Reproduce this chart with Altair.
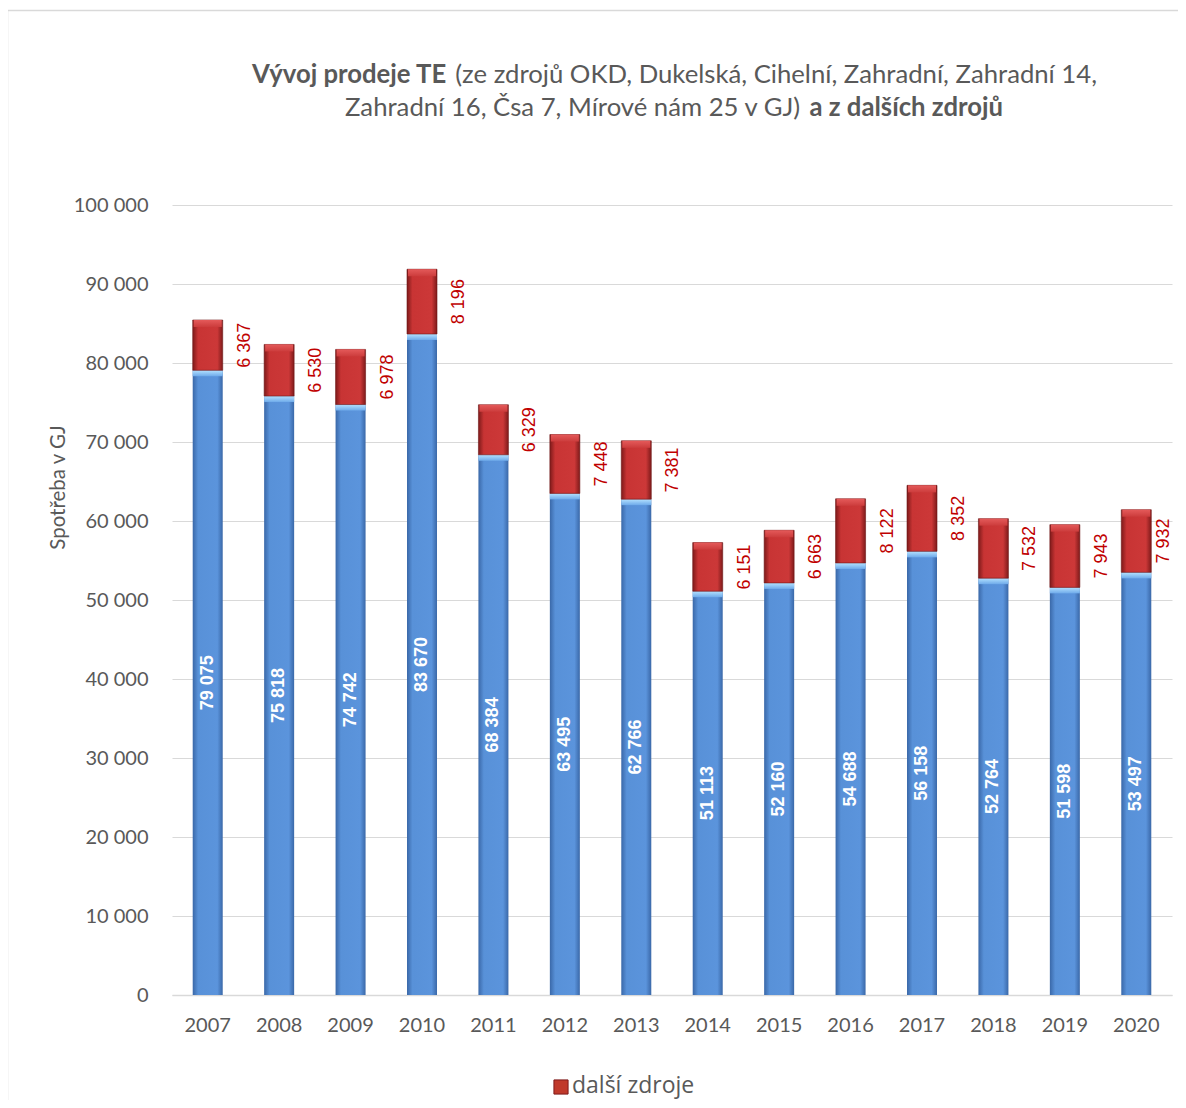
import altair as alt
import pandas as pd

# ---- data ----
years = ["2007", "2008", "2009", "2010", "2011", "2012", "2013",
         "2014", "2015", "2016", "2017", "2018", "2019", "2020"]
okd_values = [79075, 75818, 74742, 83670, 68384, 63495, 62766,
              51113, 52160, 54688, 56158, 52764, 51598, 53497]
dalsi_values = [6367, 6530, 6978, 8196, 6329, 7448, 7381,
                6151, 6663, 8122, 8352, 7532, 7943, 7932]
y_ticks = [0, 10000, 20000, 30000, 40000, 50000, 60000, 70000, 80000, 90000, 100000]

title_line1_bold = "Vývoj prodeje TE"
title_line1_rest = "(ze zdrojů OKD, Dukelská, Cihelní, Zahradní, Zahradní 14,"
title_line2_rest = "Zahradní 16, Čsa 7, Mírové nám 25 v GJ)"
title_line2_bold = "a z dalších zdrojů"
y_title = "Spotřeba v GJ"
legend_label = "další zdroje"


def fmt(v):
    return f"{v:,}".replace(",", " ")


df = pd.DataFrame({
    "year": years,
    "okd": okd_values,
    "dalsi": dalsi_values,
    "okd_label": [fmt(v) for v in okd_values],
    "dalsi_label": [fmt(v) for v in dalsi_values],
})

FONT = "Lato"
GRAY = "#595959"
W, H = 1000, 790

blue_grad = alt.Gradient(
    gradient="linear", x1=0, x2=1, y1=0, y2=0,
    stops=[alt.GradientStop(color="#3a68a8", offset=0),
           alt.GradientStop(color="#5891d8", offset=0.18),
           alt.GradientStop(color="#5b94dc", offset=0.82),
           alt.GradientStop(color="#3a68a8", offset=1)])
red_grad = alt.Gradient(
    gradient="linear", x1=0, x2=1, y1=0, y2=0,
    stops=[alt.GradientStop(color="#7e1a1a", offset=0),
           alt.GradientStop(color="#c83434", offset=0.18),
           alt.GradientStop(color="#cc3838", offset=0.82),
           alt.GradientStop(color="#7e1a1a", offset=1)])
blue_cap = alt.Gradient(
    gradient="linear", x1=0, x2=0, y1=0, y2=1,
    stops=[alt.GradientStop(color="#b4e2ff", offset=0),
           alt.GradientStop(color="#6eaaea", offset=1)])
red_cap = alt.Gradient(
    gradient="linear", x1=0, x2=0, y1=0, y2=1,
    stops=[alt.GradientStop(color="#e45a5a", offset=0),
           alt.GradientStop(color="#cc3c3c", offset=1)])

x_scale = alt.Scale(paddingInner=0, paddingOuter=0)
x_ax = alt.Axis(title=None, labelFont=FONT, labelFontSize=20,
                labelColor=GRAY, labelAngle=0, labelPadding=20,
                ticks=False, grid=False, domainColor="#d9d9d9", domainWidth=1.5)
X = alt.X("year:N", sort=years, scale=x_scale, axis=x_ax)

yscale = alt.Scale(domain=[0, 100000], nice=False, zero=True)
y_ax = alt.Axis(values=y_ticks,
                labelExpr="replace(format(datum.value, ','), ',', ' ')",
                labelFont=FONT, labelFontSize=20, labelColor=GRAY,
                labelPadding=24, ticks=False, domain=False,
                gridColor="#d9d9d9", gridWidth=1.2,
                title=y_title, titleFont=FONT, titleFontSize=20.5,
                titleFontWeight="normal", titleColor=GRAY,
                titleX=-104, titleY=282)


def Y(field):
    return alt.Y(field, scale=yscale, axis=y_ax)


base = alt.Chart(df).transform_calculate(
    total="datum.okd + datum.dalsi",
    okd_mid="datum.okd / 2",
    dalsi_mid="datum.okd + datum.dalsi / 2",
)

blue_bars = base.mark_bar(size=30, fill=blue_grad).encode(
    x=X, y=Y("okd:Q"), y2=alt.Y2(datum=0))

blue_caps = base.mark_bar(size=30, fill=blue_cap, y2Offset=6).encode(
    x=X, y=Y("okd:Q"), y2="okd:Q")

red_bars = base.mark_bar(size=30, fill=red_grad, stroke="#6e1515",
                         strokeWidth=0.6).encode(
    x=X, y=Y("total:Q"), y2="okd:Q")

red_caps = base.mark_bar(size=28, fill=red_cap, y2Offset=7).encode(
    x=X, y=Y("total:Q"), y2="total:Q")

blue_labels = base.mark_text(angle=270, align="center", baseline="middle",
                             font="Liberation Sans", fontSize=18,
                             fontWeight="bold", color="white").encode(
    x=X, y=Y("okd_mid:Q"), text="okd_label:N")

red_labels = base.transform_filter(alt.datum.year != years[-1]).mark_text(
    angle=270, align="center", baseline="middle",
    font="Liberation Sans", fontSize=18, color="#c00000", xOffset=37).encode(
    x=X, y=Y("dalsi_mid:Q"), text="dalsi_label:N")

red_label_last = base.transform_filter(alt.datum.year == years[-1]).mark_text(
    angle=270, align="center", baseline="middle",
    font="Liberation Sans", fontSize=18, color="#c00000", xOffset=28).encode(
    x=X, y=Y("dalsi_mid:Q"), text="dalsi_label:N")

one = pd.DataFrame({"k": [0]})

border_top = alt.Chart(one).mark_rule(color="#d9d9d9", strokeWidth=1.5).encode(
    x=alt.value(-164.5), x2=alt.value(1100), y=alt.value(-194.5))
border_left = alt.Chart(one).mark_rule(color="#d9d9d9", strokeWidth=1.5).encode(
    x=alt.value(-164.5), y=alt.value(-194.5), y2=alt.value(1000))

TS = 25.7
t1b = alt.Chart(one).mark_text(text=title_line1_bold, align="left", baseline="middle",
                               font=FONT, fontSize=TS, fontWeight="bold",
                               color=GRAY).encode(x=alt.value(80), y=alt.value(-130))
t1r = alt.Chart(one).mark_text(text=title_line1_rest, align="right", baseline="middle",
                               font=FONT, fontSize=TS, color=GRAY).encode(
    x=alt.value(925), y=alt.value(-130))
t2r = alt.Chart(one).mark_text(text=title_line2_rest, align="left", baseline="middle",
                               font=FONT, fontSize=TS, color=GRAY).encode(
    x=alt.value(173), y=alt.value(-97))
t2b = alt.Chart(one).mark_text(text=title_line2_bold, align="right", baseline="middle",
                               font=FONT, fontSize=TS, fontWeight="bold",
                               color=GRAY).encode(x=alt.value(831), y=alt.value(-97))

leg_sq = alt.Chart(one).mark_square(size=200, fill="#c0392b", stroke="#7e1a1a",
                                    strokeWidth=1, opacity=1).encode(
    x=alt.value(389), y=alt.value(882))
leg_tx = alt.Chart(one).mark_text(text=legend_label, align="left", baseline="middle",
                                  font="Open Sans", fontSize=23, color=GRAY).encode(
    x=alt.value(400), y=alt.value(881))

chart = alt.layer(
    border_top, border_left, blue_bars, blue_caps, red_bars, red_caps,
    blue_labels, red_labels, red_label_last, t1b, t1r, t2r, t2b, leg_sq, leg_tx,
).properties(
    width=W, height=H,
    background="white",
    autosize=alt.AutoSizeParams(type="none"),
    padding={"left": 164, "top": 197, "right": 6, "bottom": 105},
).configure_view(stroke="transparent", strokeWidth=0)

chart.save("out.html", embed_options={"renderer": "svg", "actions": False})
